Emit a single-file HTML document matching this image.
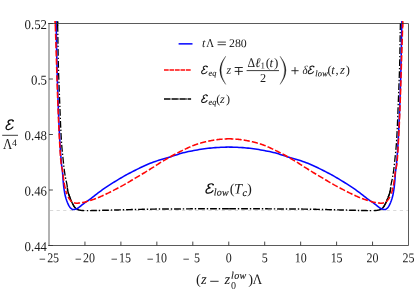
<!DOCTYPE html>
<html><head><meta charset="utf-8"><style>
html,body{margin:0;padding:0;background:#fff;}
svg{display:block;font-family:"Liberation Serif",serif;will-change:transform;}
text{fill:#1a1a1a;}
.tx text{font-size:13.5px;}
.ty text{font-size:13.5px;}
.it{font-style:italic;}
</style></head><body>
<svg width="415" height="291" viewBox="0 0 415 291">
<rect width="415" height="291" fill="#fff"/>
<clipPath id="c"><rect x="46.0" y="20.9" width="365.5" height="224.6"/></clipPath>
<line x1="50.0" y1="210.53" x2="408.5" y2="210.53" stroke="#d9d9d9" stroke-width="1" stroke-dasharray="3.2,3.4"/>
<g clip-path="url(#c)" fill="none" stroke-linejoin="round">
<path d="M57.55,21.30 L57.57,21.87 L57.59,22.44 L57.60,23.02 L57.61,23.59 L57.63,24.16 L57.64,24.73 L57.65,25.31 L57.67,25.88 L57.68,26.45 L57.69,27.03 L57.70,27.60 L57.71,28.17 L57.72,28.74 L57.74,29.32 L57.75,29.89 L57.76,30.46 L57.77,31.03 L57.78,31.61 L57.79,32.18 L57.80,32.75 L57.81,33.32 L57.82,33.90 L57.83,34.47 L57.84,35.04 L57.85,35.61 L57.86,36.19 L57.86,36.76 L57.87,37.33 L57.88,37.90 L57.89,38.48 L57.90,39.05 L57.91,39.62 L57.92,40.20 L57.93,40.77 L57.93,41.34 L57.94,41.91 L57.95,42.49 L57.96,43.06 L57.97,43.63 L57.98,44.20 L57.99,44.78 L57.99,45.35 L58.00,45.92 L58.01,46.49 L58.02,47.07 L58.03,47.64 L58.04,48.21 L58.05,48.79 L58.06,49.36 L58.07,49.93 L58.08,50.50 L58.08,51.08 L58.09,51.65 L58.10,52.22 L58.11,52.79 L58.12,53.37 L58.13,53.94 L58.14,54.51 L58.16,55.08 L58.17,55.66 L58.18,56.23 L58.19,56.80 L58.20,57.37 L58.21,57.95 L58.22,58.52 L58.23,59.09 L58.25,59.66 L58.26,60.24 L58.27,60.81 L58.29,61.38 L58.30,61.95 L58.31,62.53 L58.33,63.10 L58.34,63.67 L58.36,64.24 L58.37,64.82 L58.39,65.39 L58.40,65.96 L58.42,66.53 L58.43,67.11 L58.45,67.68 L58.46,68.25 L58.48,68.82 L58.50,69.40 L58.52,69.97 L58.53,70.54 L58.55,71.11 L58.57,71.69 L58.59,72.26 L58.60,72.83 L58.62,73.40 L58.64,73.98 L58.66,74.55 L58.68,75.12 L58.70,75.69 L58.72,76.26 L58.74,76.84 L58.76,77.41 L58.78,77.98 L58.80,78.55 L58.82,79.13 L58.84,79.70 L58.86,80.27 L58.88,80.84 L58.90,81.42 L58.92,81.99 L58.94,82.56 L58.96,83.13 L58.98,83.71 L59.01,84.28 L59.03,84.85 L59.05,85.42 L59.07,85.99 L59.09,86.57 L59.11,87.14 L59.14,87.71 L59.16,88.28 L59.18,88.86 L59.20,89.43 L59.23,90.00 L59.25,90.57 L59.27,91.15 L59.29,91.72 L59.32,92.29 L59.34,92.86 L59.36,93.43 L59.38,94.01 L59.41,94.58 L59.43,95.15 L59.45,95.72 L59.47,96.30 L59.50,96.87 L59.52,97.44 L59.54,98.01 L59.56,98.58 L59.59,99.16 L59.61,99.73 L59.63,100.30 L59.66,100.87 L59.68,101.45 L59.70,102.02 L59.72,102.59 L59.75,103.16 L59.77,103.73 L59.79,104.31 L59.81,104.88 L59.83,105.45 L59.86,106.02 L59.88,106.60 L59.90,107.17 L59.92,107.74 L59.94,108.31 L59.97,108.89 L59.99,109.46 L60.01,110.03 L60.03,110.60 L60.05,111.18 L60.07,111.75 L60.10,112.32 L60.12,112.89 L60.14,113.47 L60.16,114.04 L60.18,114.61 L60.21,115.18 L60.23,115.76 L60.25,116.33 L60.27,116.90 L60.30,117.47 L60.32,118.05 L60.34,118.62 L60.36,119.19 L60.39,119.76 L60.41,120.34 L60.43,120.91 L60.46,121.48 L60.48,122.05 L60.51,122.62 L60.53,123.20 L60.55,123.77 L60.58,124.34 L60.60,124.91 L60.63,125.49 L60.65,126.06 L60.68,126.63 L60.71,127.20 L60.73,127.78 L60.76,128.35 L60.79,128.92 L60.81,129.49 L60.84,130.06 L60.87,130.64 L60.90,131.21 L60.92,131.78 L60.95,132.35 L60.98,132.92 L61.01,133.49 L61.04,134.07 L61.07,134.64 L61.10,135.21 L61.13,135.78 L61.16,136.35 L61.20,136.92 L61.23,137.50 L61.26,138.07 L61.29,138.64 L61.33,139.21 L61.36,139.78 L61.40,140.35 L61.43,140.92 L61.47,141.49 L61.50,142.07 L61.54,142.64 L61.58,143.21 L61.62,143.78 L61.66,144.35 L61.71,144.92 L61.75,145.49 L61.80,146.06 L61.85,146.63 L61.90,147.20 L61.95,147.77 L62.00,148.34 L62.05,148.91 L62.10,149.48 L62.16,150.05 L62.21,150.62 L62.27,151.19 L62.32,151.76 L62.38,152.33 L62.44,152.90 L62.50,153.47 L62.56,154.04 L62.62,154.61 L62.68,155.18 L62.74,155.75 L62.80,156.32 L62.86,156.89 L62.92,157.46 L62.98,158.03 L63.04,158.60 L63.10,159.17 L63.16,159.74 L63.22,160.31 L63.28,160.88 L63.34,161.45 L63.40,162.02 L63.46,162.59 L63.52,163.16 L63.58,163.73 L63.64,164.30 L63.70,164.87 L63.76,165.44 L63.82,166.01 L63.89,166.58 L63.95,167.15 L64.02,167.71 L64.09,168.28 L64.15,168.85 L64.23,169.42 L64.30,169.99 L64.37,170.55 L64.45,171.12 L64.53,171.69 L64.61,172.26 L64.70,172.82 L64.78,173.39 L64.87,173.96 L64.96,174.52 L65.05,175.09 L65.15,175.65 L65.24,176.22 L65.34,176.78 L65.44,177.35 L65.54,177.91 L65.65,178.47 L65.76,179.03 L65.88,179.59 L66.01,180.15 L66.13,180.71 L66.26,181.27 L66.39,181.83 L66.51,182.39 L66.64,182.95 L66.75,183.51 L66.86,184.07 L66.96,184.63 L67.06,185.20 L67.14,185.76 L67.20,186.33 L67.26,186.91 L67.32,187.48 L67.37,188.05 L67.42,188.62 L67.49,189.19 L67.56,189.75 L67.65,190.31 L67.76,190.87 L67.89,191.42 L68.03,191.98 L68.18,192.53 L68.35,193.08 L68.52,193.63 L68.71,194.17 L68.90,194.72 L69.10,195.26 L69.30,195.80 L69.50,196.34 L69.70,196.88 L69.90,197.42 L70.09,197.96 L70.29,198.49 L70.50,199.03 L70.71,199.57 L70.92,200.10 L71.14,200.63 L71.37,201.16 L71.60,201.69 L71.85,202.21 L72.10,202.72 L72.35,203.22 L72.62,203.73 L72.90,204.24 L73.18,204.76 L73.47,205.29 L73.78,205.81 L74.09,206.32 L74.42,206.80 L74.77,207.26 L75.13,207.68 L75.51,208.06" stroke="#000" stroke-width="1.3" stroke-dasharray="6.8,1.9,1.4,1.9" stroke-dashoffset="8.3"/>
<path d="M400.40,22.90 L400.40,23.02 L400.39,23.59 L400.37,24.16 L400.36,24.73 L400.35,25.31 L400.33,25.88 L400.32,26.45 L400.31,27.03 L400.30,27.60 L400.29,28.17 L400.28,28.74 L400.26,29.32 L400.25,29.89 L400.24,30.46 L400.23,31.03 L400.22,31.61 L400.21,32.18 L400.20,32.75 L400.19,33.32 L400.18,33.90 L400.17,34.47 L400.16,35.04 L400.15,35.61 L400.14,36.19 L400.14,36.76 L400.13,37.33 L400.12,37.90 L400.11,38.48 L400.10,39.05 L400.09,39.62 L400.08,40.20 L400.07,40.77 L400.07,41.34 L400.06,41.91 L400.05,42.49 L400.04,43.06 L400.03,43.63 L400.02,44.20 L400.01,44.78 L400.01,45.35 L400.00,45.92 L399.99,46.49 L399.98,47.07 L399.97,47.64 L399.96,48.21 L399.95,48.79 L399.94,49.36 L399.93,49.93 L399.92,50.50 L399.92,51.08 L399.91,51.65 L399.90,52.22 L399.89,52.79 L399.88,53.37 L399.87,53.94 L399.86,54.51 L399.84,55.08 L399.83,55.66 L399.82,56.23 L399.81,56.80 L399.80,57.37 L399.79,57.95 L399.78,58.52 L399.77,59.09 L399.75,59.66 L399.74,60.24 L399.73,60.81 L399.71,61.38 L399.70,61.95 L399.69,62.53 L399.67,63.10 L399.66,63.67 L399.64,64.24 L399.63,64.82 L399.61,65.39 L399.60,65.96 L399.58,66.53 L399.57,67.11 L399.55,67.68 L399.54,68.25 L399.52,68.82 L399.50,69.40 L399.48,69.97 L399.47,70.54 L399.45,71.11 L399.43,71.69 L399.41,72.26 L399.40,72.83 L399.38,73.40 L399.36,73.98 L399.34,74.55 L399.32,75.12 L399.30,75.69 L399.28,76.26 L399.26,76.84 L399.24,77.41 L399.22,77.98 L399.20,78.55 L399.18,79.13 L399.16,79.70 L399.14,80.27 L399.12,80.84 L399.10,81.42 L399.08,81.99 L399.06,82.56 L399.04,83.13 L399.02,83.71 L398.99,84.28 L398.97,84.85 L398.95,85.42 L398.93,85.99 L398.91,86.57 L398.89,87.14 L398.86,87.71 L398.84,88.28 L398.82,88.86 L398.80,89.43 L398.77,90.00 L398.75,90.57 L398.73,91.15 L398.71,91.72 L398.68,92.29 L398.66,92.86 L398.64,93.43 L398.62,94.01 L398.59,94.58 L398.57,95.15 L398.55,95.72 L398.53,96.30 L398.50,96.87 L398.48,97.44 L398.46,98.01 L398.44,98.58 L398.41,99.16 L398.39,99.73 L398.37,100.30 L398.34,100.87 L398.32,101.45 L398.30,102.02 L398.28,102.59 L398.25,103.16 L398.23,103.73 L398.21,104.31 L398.19,104.88 L398.17,105.45 L398.14,106.02 L398.12,106.60 L398.10,107.17 L398.08,107.74 L398.06,108.31 L398.03,108.89 L398.01,109.46 L397.99,110.03 L397.97,110.60 L397.95,111.18 L397.93,111.75 L397.90,112.32 L397.88,112.89 L397.86,113.47 L397.84,114.04 L397.82,114.61 L397.79,115.18 L397.77,115.76 L397.75,116.33 L397.73,116.90 L397.70,117.47 L397.68,118.05 L397.66,118.62 L397.64,119.19 L397.61,119.76 L397.59,120.34 L397.57,120.91 L397.54,121.48 L397.52,122.05 L397.49,122.62 L397.47,123.20 L397.45,123.77 L397.42,124.34 L397.40,124.91 L397.37,125.49 L397.35,126.06 L397.32,126.63 L397.29,127.20 L397.27,127.78 L397.24,128.35 L397.21,128.92 L397.19,129.49 L397.16,130.06 L397.13,130.64 L397.10,131.21 L397.08,131.78 L397.05,132.35 L397.02,132.92 L396.99,133.49 L396.96,134.07 L396.93,134.64 L396.90,135.21 L396.87,135.78 L396.84,136.35 L396.80,136.92 L396.77,137.50 L396.74,138.07 L396.71,138.64 L396.67,139.21 L396.64,139.78 L396.60,140.35 L396.57,140.92 L396.53,141.49 L396.50,142.07 L396.46,142.64 L396.42,143.21 L396.38,143.78 L396.34,144.35 L396.29,144.92 L396.25,145.49 L396.20,146.06 L396.15,146.63 L396.10,147.20 L396.05,147.77 L396.00,148.34 L395.95,148.91 L395.90,149.48 L395.84,150.05 L395.79,150.62 L395.73,151.19 L395.68,151.76 L395.62,152.33 L395.56,152.90 L395.50,153.47 L395.44,154.04 L395.38,154.61 L395.32,155.18 L395.26,155.75 L395.20,156.32 L395.14,156.89 L395.08,157.46 L395.02,158.03 L394.96,158.60 L394.90,159.17 L394.84,159.74 L394.78,160.31 L394.72,160.88 L394.66,161.45 L394.60,162.02 L394.54,162.59 L394.48,163.16 L394.42,163.73 L394.36,164.30 L394.30,164.87 L394.24,165.44 L394.18,166.01 L394.11,166.58 L394.05,167.15 L393.98,167.71 L393.91,168.28 L393.85,168.85 L393.77,169.42 L393.70,169.99 L393.63,170.55 L393.55,171.12 L393.47,171.69 L393.39,172.26 L393.30,172.82 L393.22,173.39 L393.13,173.96 L393.04,174.52 L392.95,175.09 L392.85,175.65 L392.76,176.22 L392.66,176.78 L392.56,177.35 L392.46,177.91 L392.35,178.47 L392.24,179.03 L392.12,179.59 L391.99,180.15 L391.87,180.71 L391.74,181.27 L391.61,181.83 L391.49,182.39 L391.36,182.95 L391.25,183.51 L391.14,184.07 L391.04,184.63 L390.94,185.20 L390.86,185.76 L390.80,186.33 L390.74,186.91 L390.68,187.48 L390.63,188.05 L390.58,188.62 L390.51,189.19 L390.44,189.75 L390.35,190.31 L390.24,190.87 L390.11,191.42 L389.97,191.98 L389.82,192.53 L389.65,193.08 L389.48,193.63 L389.29,194.17 L389.10,194.72 L388.90,195.26 L388.70,195.80 L388.50,196.34 L388.30,196.88 L388.10,197.42 L387.91,197.96 L387.71,198.49 L387.50,199.03 L387.29,199.57 L387.08,200.10 L386.86,200.63 L386.63,201.16 L386.40,201.69 L386.15,202.21 L385.90,202.72 L385.65,203.22 L385.38,203.73 L385.10,204.24 L384.82,204.76 L384.53,205.29 L384.22,205.81 L383.91,206.32 L383.58,206.80 L383.23,207.26 L382.87,207.68 L382.49,208.06" stroke="#000" stroke-width="1.3" stroke-dasharray="6.8,1.9,1.4,1.9" stroke-dashoffset="-0.3"/>
<path d="M84.70,210.60 L85.27,210.60 L85.84,210.60 L86.42,210.60 L86.99,210.60 L87.56,210.60 L88.14,210.60 L88.71,210.60 L89.28,210.60 L89.85,210.60 L90.43,210.60 L91.00,210.60 L91.57,210.59 L92.15,210.58 L92.72,210.58 L93.29,210.57 L93.86,210.55 L94.44,210.54 L95.01,210.53 L95.58,210.51 L96.15,210.50 L96.73,210.48 L97.30,210.47 L97.87,210.45 L98.44,210.44 L99.02,210.42 L99.59,210.41 L100.16,210.40 L100.73,210.38 L101.31,210.37 L101.88,210.36 L102.45,210.34 L103.02,210.33 L103.60,210.31 L104.17,210.30 L104.74,210.28 L105.31,210.27 L105.89,210.25 L106.46,210.23 L107.03,210.22 L107.60,210.20 L108.18,210.19 L108.75,210.17 L109.32,210.16 L109.89,210.14 L110.47,210.12 L111.04,210.11 L111.61,210.09 L112.18,210.08 L112.76,210.06 L113.33,210.04 L113.90,210.03 L114.47,210.01 L115.05,210.00 L115.62,209.98 L116.19,209.97 L116.76,209.95 L117.34,209.94 L117.91,209.92 L118.48,209.91 L119.05,209.89 L119.63,209.88 L120.20,209.86 L120.77,209.85 L121.34,209.84 L121.92,209.82 L122.49,209.81 L123.06,209.79 L123.63,209.78 L124.21,209.76 L124.78,209.75 L125.35,209.73 L125.92,209.72 L126.50,209.70 L127.07,209.69 L127.64,209.67 L128.21,209.66 L128.79,209.65 L129.36,209.63 L129.93,209.62 L130.50,209.60 L131.08,209.59 L131.65,209.58 L132.22,209.56 L132.79,209.55 L133.37,209.54 L133.94,209.52 L134.51,209.51 L135.08,209.50 L135.66,209.49 L136.23,209.47 L136.80,209.46 L137.37,209.45 L137.95,209.43 L138.52,209.42 L139.09,209.41 L139.66,209.39 L140.24,209.38 L140.81,209.37 L141.38,209.35 L141.95,209.34 L142.53,209.33 L143.10,209.32 L143.67,209.30 L144.24,209.29 L144.82,209.28 L145.39,209.27 L145.96,209.25 L146.53,209.24 L147.11,209.23 L147.68,209.22 L148.25,209.21 L148.83,209.20 L149.40,209.19 L149.97,209.17 L150.54,209.16 L151.12,209.16 L151.69,209.15 L152.26,209.14 L152.83,209.13 L153.41,209.12 L153.98,209.11 L154.55,209.11 L155.12,209.10 L155.70,209.09 L156.27,209.09 L156.84,209.08 L157.41,209.07 L157.99,209.07 L158.56,209.06 L159.13,209.06 L159.70,209.05 L160.28,209.04 L160.85,209.04 L161.42,209.03 L162.00,209.03 L162.57,209.02 L163.14,209.02 L163.71,209.01 L164.29,209.01 L164.86,209.00 L165.43,209.00 L166.00,208.99 L166.58,208.99 L167.15,208.98 L167.72,208.98 L168.29,208.97 L168.87,208.97 L169.44,208.97 L170.01,208.96 L170.59,208.96 L171.16,208.95 L171.73,208.95 L172.30,208.95 L172.88,208.94 L173.45,208.94 L174.02,208.93 L174.59,208.93 L175.17,208.93 L175.74,208.92 L176.31,208.92 L176.89,208.92 L177.46,208.91 L178.03,208.91 L178.60,208.91 L179.18,208.90 L179.75,208.90 L180.32,208.90 L180.89,208.90 L181.47,208.89 L182.04,208.89 L182.61,208.89 L183.18,208.88 L183.76,208.88 L184.33,208.88 L184.90,208.87 L185.48,208.87 L186.05,208.87 L186.62,208.86 L187.19,208.86 L187.77,208.86 L188.34,208.85 L188.91,208.85 L189.48,208.85 L190.06,208.85 L190.63,208.84 L191.20,208.84 L191.78,208.84 L192.35,208.83 L192.92,208.83 L193.49,208.83 L194.07,208.83 L194.64,208.82 L195.21,208.82 L195.78,208.82 L196.36,208.82 L196.93,208.82 L197.50,208.81 L198.07,208.81 L198.65,208.81 L199.22,208.81 L199.79,208.81 L200.37,208.81 L200.94,208.80 L201.51,208.80 L202.08,208.80 L202.66,208.80 L203.23,208.80 L203.80,208.80 L204.37,208.80 L204.95,208.80 L205.52,208.80 L206.09,208.80 L206.67,208.80 L207.24,208.80 L207.81,208.80 L208.38,208.80 L208.96,208.80 L209.53,208.80 L210.10,208.80 L210.67,208.80 L211.25,208.80 L211.82,208.80 L212.39,208.80 L212.96,208.80 L213.54,208.80 L214.11,208.80 L214.68,208.80 L215.26,208.80 L215.83,208.80 L216.40,208.80 L216.97,208.80 L217.55,208.80 L218.12,208.80 L218.69,208.80 L219.26,208.80 L219.84,208.80 L220.41,208.80 L220.98,208.80 L221.55,208.80 L222.13,208.80 L222.70,208.80 L223.27,208.80 L223.85,208.80 L224.42,208.80 L224.99,208.80 L225.56,208.80 L226.14,208.80 L226.71,208.80 L227.28,208.80 L227.85,208.80 L228.43,208.80 L229.00,208.80" stroke="#000" stroke-width="1.45" stroke-dasharray="6.8,1.9,1.4,1.9" stroke-dashoffset="6.6"/>
<path d="M373.30,210.60 L372.73,210.60 L372.16,210.60 L371.58,210.60 L371.01,210.60 L370.44,210.60 L369.86,210.60 L369.29,210.60 L368.72,210.60 L368.15,210.60 L367.57,210.60 L367.00,210.60 L366.43,210.59 L365.85,210.58 L365.28,210.58 L364.71,210.57 L364.14,210.55 L363.56,210.54 L362.99,210.53 L362.42,210.51 L361.85,210.50 L361.27,210.48 L360.70,210.47 L360.13,210.45 L359.56,210.44 L358.98,210.42 L358.41,210.41 L357.84,210.40 L357.27,210.38 L356.69,210.37 L356.12,210.36 L355.55,210.34 L354.98,210.33 L354.40,210.31 L353.83,210.30 L353.26,210.28 L352.69,210.27 L352.11,210.25 L351.54,210.23 L350.97,210.22 L350.40,210.20 L349.82,210.19 L349.25,210.17 L348.68,210.16 L348.11,210.14 L347.53,210.12 L346.96,210.11 L346.39,210.09 L345.82,210.08 L345.24,210.06 L344.67,210.04 L344.10,210.03 L343.53,210.01 L342.95,210.00 L342.38,209.98 L341.81,209.97 L341.24,209.95 L340.66,209.94 L340.09,209.92 L339.52,209.91 L338.95,209.89 L338.37,209.88 L337.80,209.86 L337.23,209.85 L336.66,209.84 L336.08,209.82 L335.51,209.81 L334.94,209.79 L334.37,209.78 L333.79,209.76 L333.22,209.75 L332.65,209.73 L332.08,209.72 L331.50,209.70 L330.93,209.69 L330.36,209.67 L329.79,209.66 L329.21,209.65 L328.64,209.63 L328.07,209.62 L327.50,209.60 L326.92,209.59 L326.35,209.58 L325.78,209.56 L325.21,209.55 L324.63,209.54 L324.06,209.52 L323.49,209.51 L322.92,209.50 L322.34,209.49 L321.77,209.47 L321.20,209.46 L320.63,209.45 L320.05,209.43 L319.48,209.42 L318.91,209.41 L318.34,209.39 L317.76,209.38 L317.19,209.37 L316.62,209.35 L316.05,209.34 L315.47,209.33 L314.90,209.32 L314.33,209.30 L313.76,209.29 L313.18,209.28 L312.61,209.27 L312.04,209.25 L311.47,209.24 L310.89,209.23 L310.32,209.22 L309.75,209.21 L309.17,209.20 L308.60,209.19 L308.03,209.17 L307.46,209.16 L306.88,209.16 L306.31,209.15 L305.74,209.14 L305.17,209.13 L304.59,209.12 L304.02,209.11 L303.45,209.11 L302.88,209.10 L302.30,209.09 L301.73,209.09 L301.16,209.08 L300.59,209.07 L300.01,209.07 L299.44,209.06 L298.87,209.06 L298.30,209.05 L297.72,209.04 L297.15,209.04 L296.58,209.03 L296.00,209.03 L295.43,209.02 L294.86,209.02 L294.29,209.01 L293.71,209.01 L293.14,209.00 L292.57,209.00 L292.00,208.99 L291.42,208.99 L290.85,208.98 L290.28,208.98 L289.71,208.97 L289.13,208.97 L288.56,208.97 L287.99,208.96 L287.41,208.96 L286.84,208.95 L286.27,208.95 L285.70,208.95 L285.12,208.94 L284.55,208.94 L283.98,208.93 L283.41,208.93 L282.83,208.93 L282.26,208.92 L281.69,208.92 L281.11,208.92 L280.54,208.91 L279.97,208.91 L279.40,208.91 L278.82,208.90 L278.25,208.90 L277.68,208.90 L277.11,208.90 L276.53,208.89 L275.96,208.89 L275.39,208.89 L274.82,208.88 L274.24,208.88 L273.67,208.88 L273.10,208.87 L272.52,208.87 L271.95,208.87 L271.38,208.86 L270.81,208.86 L270.23,208.86 L269.66,208.85 L269.09,208.85 L268.52,208.85 L267.94,208.85 L267.37,208.84 L266.80,208.84 L266.22,208.84 L265.65,208.83 L265.08,208.83 L264.51,208.83 L263.93,208.83 L263.36,208.82 L262.79,208.82 L262.22,208.82 L261.64,208.82 L261.07,208.82 L260.50,208.81 L259.93,208.81 L259.35,208.81 L258.78,208.81 L258.21,208.81 L257.63,208.81 L257.06,208.80 L256.49,208.80 L255.92,208.80 L255.34,208.80 L254.77,208.80 L254.20,208.80 L253.63,208.80 L253.05,208.80 L252.48,208.80 L251.91,208.80 L251.33,208.80 L250.76,208.80 L250.19,208.80 L249.62,208.80 L249.04,208.80 L248.47,208.80 L247.90,208.80 L247.33,208.80 L246.75,208.80 L246.18,208.80 L245.61,208.80 L245.04,208.80 L244.46,208.80 L243.89,208.80 L243.32,208.80 L242.74,208.80 L242.17,208.80 L241.60,208.80 L241.03,208.80 L240.45,208.80 L239.88,208.80 L239.31,208.80 L238.74,208.80 L238.16,208.80 L237.59,208.80 L237.02,208.80 L236.45,208.80 L235.87,208.80 L235.30,208.80 L234.73,208.80 L234.15,208.80 L233.58,208.80 L233.01,208.80 L232.44,208.80 L231.86,208.80 L231.29,208.80 L230.72,208.80 L230.15,208.80 L229.57,208.80 L229.00,208.80" stroke="#000" stroke-width="1.45" stroke-dasharray="6.8,1.9,1.4,1.9" stroke-dashoffset="6.6"/>
<path d="M67.32,187.48 L67.37,188.05 L67.42,188.62 L67.49,189.19 L67.56,189.75 L67.65,190.31 L67.76,190.87 L67.89,191.42 L68.03,191.98 L68.18,192.53 L68.35,193.08 L68.52,193.63 L68.71,194.17 L68.90,194.72 L69.10,195.26 L69.30,195.80 L69.50,196.34 L69.70,196.88 L69.90,197.42 L70.09,197.96 L70.29,198.49 L70.50,199.03 L70.71,199.57 L70.92,200.10 L71.14,200.63 L71.37,201.16 L71.60,201.69 L71.85,202.21 L72.10,202.72 L72.35,203.22 L72.62,203.73 L72.90,204.24 L73.18,204.76 L73.47,205.29 L73.78,205.81 L74.09,206.32 L74.42,206.80 L74.77,207.26 L75.13,207.68 L75.51,208.06 L75.91,208.39 L76.36,208.70 L76.85,209.00 L77.37,209.28 L77.91,209.53 L78.47,209.76 L79.03,209.94 L79.58,210.08 L80.13,210.17 L80.68,210.27 L81.25,210.35 L81.82,210.43 L82.40,210.49 L82.97,210.54 L83.55,210.58 L84.13,210.60" stroke="#000" stroke-width="1.45"/>
<path d="M390.68,187.48 L390.63,188.05 L390.58,188.62 L390.51,189.19 L390.44,189.75 L390.35,190.31 L390.24,190.87 L390.11,191.42 L389.97,191.98 L389.82,192.53 L389.65,193.08 L389.48,193.63 L389.29,194.17 L389.10,194.72 L388.90,195.26 L388.70,195.80 L388.50,196.34 L388.30,196.88 L388.10,197.42 L387.91,197.96 L387.71,198.49 L387.50,199.03 L387.29,199.57 L387.08,200.10 L386.86,200.63 L386.63,201.16 L386.40,201.69 L386.15,202.21 L385.90,202.72 L385.65,203.22 L385.38,203.73 L385.10,204.24 L384.82,204.76 L384.53,205.29 L384.22,205.81 L383.91,206.32 L383.58,206.80 L383.23,207.26 L382.87,207.68 L382.49,208.06 L382.09,208.39 L381.64,208.70 L381.15,209.00 L380.63,209.28 L380.09,209.53 L379.53,209.76 L378.97,209.94 L378.42,210.08 L377.87,210.17 L377.32,210.27 L376.75,210.35 L376.18,210.43 L375.60,210.49 L375.03,210.54 L374.45,210.58 L373.87,210.60" stroke="#000" stroke-width="1.45"/>
<path d="M57.55,21.3 L57.62,25.5" stroke="#000" stroke-width="1.5"/>
<path d="M56.10,21.00 L56.15,22.82 L56.19,24.64 L56.23,26.46 L56.26,28.28 L56.30,30.09 L56.33,31.91 L56.37,33.73 L56.40,35.55 L56.43,37.37 L56.46,39.19 L56.50,41.01 L56.53,42.83 L56.56,44.65 L56.59,46.47 L56.62,48.28 L56.66,50.10 L56.69,51.92 L56.72,53.74 L56.76,55.56 L56.80,57.38 L56.84,59.20 L56.88,61.02 L56.92,62.84 L56.96,64.65 L57.01,66.47 L57.05,68.29 L57.10,70.11 L57.15,71.93 L57.20,73.75 L57.25,75.57 L57.30,77.38 L57.35,79.20 L57.41,81.02 L57.46,82.84 L57.52,84.66 L57.58,86.48 L57.63,88.30 L57.69,90.11 L57.75,91.93 L57.81,93.75 L57.87,95.57 L57.94,97.39 L58.00,99.20 L58.06,101.02 L58.13,102.84 L58.20,104.66 L58.26,106.48 L58.33,108.29 L58.40,110.11 L58.47,111.93 L58.55,113.75 L58.62,115.57 L58.70,117.38 L58.77,119.20 L58.85,121.02 L58.93,122.84 L59.01,124.66 L59.10,126.47 L59.18,128.29 L59.27,130.11 L59.36,131.93 L59.45,133.74 L59.55,135.56 L59.64,137.38 L59.74,139.19 L59.84,141.01 L59.95,142.82 L60.05,144.64 L60.16,146.46 L60.28,148.27 L60.40,150.09 L60.52,151.90 L60.65,153.72 L60.79,155.53 L60.93,157.35 L61.08,159.16 L61.23,160.97 L61.39,162.79 L61.56,164.60 L61.76,166.40 L62.00,168.21 L62.25,170.01 L62.48,171.81 L62.65,173.62 L62.77,175.44 L62.88,177.26 L63.01,179.07 L63.15,180.89 L63.31,182.70 L63.49,184.51 L63.69,186.32 L63.92,188.12 L64.17,189.93 L64.45,191.73 L64.77,193.52 L65.13,195.29 L65.56,197.06 L66.08,198.82 L66.66,200.56 L67.30,202.25 L68.01,203.95 L68.83,205.66 L69.80,207.20 L70.99,208.47 L72.59,209.55 L74.32,209.58 L76.10,209.10 L77.71,208.24 L79.21,207.21 L80.61,206.04 L82.00,204.86 L83.46,203.77 L84.95,202.73 L86.46,201.71 L87.97,200.69 L89.45,199.64 L90.90,198.54 L92.34,197.42 L93.76,196.29 L95.19,195.16 L96.63,194.05 L98.08,192.95 L99.54,191.86 L101.00,190.78 L102.47,189.71 L103.96,188.66 L105.46,187.64 L106.98,186.64 L108.51,185.65 L110.04,184.67 L111.58,183.70 L113.12,182.72 L114.66,181.75 L116.20,180.80 L117.76,179.85 L119.31,178.91 L120.88,177.98 L122.45,177.05 L124.02,176.15 L125.61,175.26 L127.21,174.40 L128.82,173.55 L130.43,172.71 L132.05,171.87 L133.67,171.04 L135.29,170.21 L136.91,169.39 L138.54,168.58 L140.17,167.78 L141.81,166.98 L143.45,166.20 L145.11,165.44 L146.77,164.71 L148.45,164.01 L150.14,163.33 L151.84,162.68 L153.54,162.05 L155.26,161.44 L156.98,160.86 L158.71,160.30 L160.45,159.75 L162.19,159.22 L163.94,158.71 L165.69,158.21 L167.43,157.71 L169.18,157.19 L170.92,156.66 L172.65,156.11 L174.38,155.54 L176.11,154.96 L177.84,154.39 L179.57,153.83 L181.31,153.31 L183.07,152.83 L184.83,152.40 L186.60,152.00 L188.38,151.61 L190.16,151.25 L191.95,150.90 L193.74,150.56 L195.53,150.24 L197.32,149.92 L199.12,149.60 L200.91,149.30 L202.71,149.01 L204.51,148.75 L206.31,148.51 L208.12,148.31 L209.93,148.12 L211.74,147.94 L213.55,147.78 L215.37,147.64 L217.18,147.51 L219.00,147.41 L220.82,147.33 L222.63,147.25 L224.45,147.19 L226.27,147.13 L228.09,147.10 L229.91,147.10 L231.73,147.13 L233.55,147.19 L235.37,147.25 L237.18,147.33 L239.00,147.41 L240.82,147.51 L242.63,147.64 L244.45,147.78 L246.26,147.94 L248.07,148.12 L249.88,148.31 L251.69,148.51 L253.49,148.75 L255.29,149.01 L257.09,149.30 L258.88,149.60 L260.68,149.92 L262.47,150.24 L264.26,150.56 L266.05,150.90 L267.84,151.25 L269.62,151.61 L271.40,152.00 L273.17,152.40 L274.93,152.83 L276.69,153.31 L278.43,153.83 L280.16,154.39 L281.89,154.96 L283.62,155.54 L285.35,156.11 L287.08,156.66 L288.82,157.19 L290.57,157.71 L292.31,158.21 L294.06,158.71 L295.81,159.22 L297.55,159.75 L299.29,160.30 L301.02,160.86 L302.74,161.44 L304.46,162.05 L306.16,162.68 L307.86,163.33 L309.55,164.01 L311.23,164.71 L312.89,165.44 L314.55,166.20 L316.19,166.98 L317.83,167.78 L319.46,168.58 L321.09,169.39 L322.71,170.21 L324.33,171.04 L325.95,171.87 L327.57,172.71 L329.18,173.55 L330.79,174.40 L332.39,175.26 L333.98,176.15 L335.55,177.05 L337.12,177.98 L338.69,178.91 L340.24,179.85 L341.80,180.80 L343.34,181.75 L344.88,182.72 L346.42,183.70 L347.96,184.67 L349.49,185.65 L351.02,186.64 L352.54,187.64 L354.04,188.66 L355.53,189.71 L357.00,190.78 L358.46,191.86 L359.92,192.95 L361.37,194.05 L362.81,195.16 L364.24,196.29 L365.66,197.42 L367.10,198.54 L368.55,199.64 L370.03,200.69 L371.54,201.71 L373.05,202.73 L374.54,203.77 L376.00,204.86 L377.39,206.04 L378.79,207.21 L380.29,208.24 L381.90,209.10 L383.68,209.58 L385.41,209.55 L387.01,208.47 L388.20,207.20 L389.17,205.66 L389.99,203.95 L390.70,202.25 L391.34,200.56 L391.92,198.82 L392.44,197.06 L392.87,195.29 L393.23,193.52 L393.55,191.73 L393.83,189.93 L394.08,188.12 L394.31,186.32 L394.51,184.51 L394.69,182.70 L394.85,180.89 L394.99,179.07 L395.12,177.26 L395.23,175.44 L395.35,173.62 L395.52,171.81 L395.75,170.01 L396.00,168.21 L396.24,166.40 L396.44,164.60 L396.61,162.79 L396.77,160.97 L396.92,159.16 L397.07,157.35 L397.21,155.53 L397.35,153.72 L397.48,151.90 L397.60,150.09 L397.72,148.27 L397.84,146.46 L397.95,144.64 L398.05,142.82 L398.16,141.01 L398.26,139.19 L398.36,137.38 L398.45,135.56 L398.55,133.74 L398.64,131.93 L398.73,130.11 L398.82,128.29 L398.90,126.47 L398.99,124.66 L399.07,122.84 L399.15,121.02 L399.23,119.20 L399.30,117.38 L399.38,115.57 L399.45,113.75 L399.53,111.93 L399.60,110.11 L399.67,108.29 L399.74,106.48 L399.80,104.66 L399.87,102.84 L399.94,101.02 L400.00,99.20 L400.06,97.39 L400.13,95.57 L400.19,93.75 L400.25,91.93 L400.31,90.11 L400.37,88.30 L400.42,86.48 L400.48,84.66 L400.54,82.84 L400.59,81.02 L400.65,79.20 L400.70,77.38 L400.75,75.57 L400.80,73.75 L400.85,71.93 L400.90,70.11 L400.95,68.29 L400.99,66.47 L401.04,64.65 L401.08,62.84 L401.12,61.02 L401.16,59.20 L401.20,57.38 L401.24,55.56 L401.28,53.74 L401.31,51.92 L401.34,50.10 L401.38,48.28 L401.41,46.47 L401.44,44.65 L401.47,42.83 L401.50,41.01 L401.54,39.19 L401.57,37.37 L401.60,35.55 L401.63,33.73 L401.67,31.91 L401.70,30.09 L401.74,28.28 L401.77,26.46 L401.81,24.64 L401.85,22.82 L401.90,21.00" stroke="#0505ff" stroke-width="1.55"/>
<path d="M55.25,21.00 L55.26,21.51 L55.27,22.02 L55.29,22.52 L55.30,23.03 L55.31,23.54 L55.33,24.05 L55.34,24.56 L55.36,25.07 L55.37,25.57 L55.38,26.08 L55.40,26.59 L55.41,27.10 L55.43,27.61 L55.44,28.11 L55.46,28.62 L55.47,29.13 L55.49,29.64 L55.50,30.15 L55.51,30.66 L55.53,31.16 L55.54,31.67 L55.56,32.18 L55.57,32.69 L55.59,33.20 L55.60,33.70 L55.62,34.21 L55.64,34.72 L55.65,35.23 L55.67,35.74 L55.68,36.25 L55.70,36.75 L55.71,37.26 L55.73,37.77 L55.74,38.28 L55.76,38.79 L55.78,39.29 L55.79,39.80 L55.81,40.31 L55.82,40.82 L55.84,41.33 L55.86,41.83 L55.87,42.34 L55.89,42.85 L55.90,43.36 L55.92,43.87 L55.94,44.38 L55.95,44.88 L55.97,45.39 L55.98,45.90 L56.00,46.41 L56.02,46.92 L56.03,47.42 L56.05,47.93 L56.07,48.44 L56.08,48.95 L56.10,49.46 L56.11,49.96 L56.13,50.47 L56.15,50.98 L56.16,51.49 L56.18,52.00 L56.20,52.51 L56.21,53.01 L56.23,53.52 L56.25,54.03 L56.26,54.54 L56.28,55.05 L56.29,55.55 L56.31,56.06 L56.33,56.57 L56.34,57.08 L56.36,57.59 L56.38,58.09 L56.39,58.60 L56.41,59.11 L56.42,59.62 L56.44,60.13 L56.46,60.64 L56.47,61.14 L56.49,61.65 L56.51,62.16 L56.52,62.67 L56.54,63.18 L56.55,63.68 L56.57,64.19 L56.58,64.70 L56.60,65.21 L56.62,65.72 L56.63,66.22 L56.65,66.73 L56.66,67.24 L56.68,67.75 L56.70,68.26 L56.71,68.77 L56.73,69.27 L56.74,69.78 L56.76,70.29 L56.77,70.80 L56.79,71.31 L56.80,71.81 L56.82,72.32 L56.84,72.83 L56.85,73.34 L56.87,73.85 L56.88,74.36 L56.90,74.86 L56.91,75.37 L56.93,75.88 L56.94,76.39 L56.96,76.90 L56.98,77.40 L56.99,77.91 L57.01,78.42 L57.02,78.93 L57.04,79.44 L57.06,79.95 L57.07,80.45 L57.09,80.96 L57.10,81.47 L57.12,81.98 L57.13,82.49 L57.15,82.99 L57.17,83.50 L57.18,84.01 L57.20,84.52 L57.22,85.03 L57.23,85.53 L57.25,86.04 L57.26,86.55 L57.28,87.06 L57.30,87.57 L57.31,88.08 L57.33,88.58 L57.35,89.09 L57.36,89.60 L57.38,90.11 L57.40,90.62 L57.41,91.12 L57.43,91.63 L57.45,92.14 L57.47,92.65 L57.48,93.16 L57.50,93.66 L57.52,94.17 L57.54,94.68 L57.55,95.19 L57.57,95.70 L57.59,96.20 L57.61,96.71 L57.62,97.22 L57.64,97.73 L57.66,98.24 L57.68,98.74 L57.70,99.25 L57.72,99.76 L57.74,100.27 L57.75,100.78 L57.77,101.28 L57.79,101.79 L57.81,102.30 L57.83,102.81 L57.85,103.32 L57.87,103.82 L57.89,104.33 L57.91,104.84 L57.93,105.35 L57.95,105.86 L57.97,106.37 L57.99,106.87 L58.01,107.38 L58.02,107.89 L58.04,108.40 L58.06,108.91 L58.08,109.41 L58.10,109.92 L58.12,110.43 L58.14,110.94 L58.16,111.45 L58.18,111.95 L58.20,112.46 L58.23,112.97 L58.25,113.48 L58.27,113.99 L58.29,114.49 L58.31,115.00 L58.33,115.51 L58.35,116.02 L58.37,116.53 L58.39,117.03 L58.41,117.54 L58.43,118.05 L58.45,118.56 L58.48,119.07 L58.50,119.57 L58.52,120.08 L58.54,120.59 L58.56,121.10 L58.59,121.61 L58.61,122.11 L58.63,122.62 L58.65,123.13 L58.68,123.64 L58.70,124.15 L58.72,124.65 L58.74,125.16 L58.77,125.67 L58.79,126.18 L58.81,126.68 L58.84,127.19 L58.86,127.70 L58.88,128.21 L58.91,128.72 L58.93,129.22 L58.96,129.73 L58.98,130.24 L59.01,130.75 L59.03,131.26 L59.06,131.76 L59.08,132.27 L59.11,132.78 L59.13,133.29 L59.16,133.79 L59.18,134.30 L59.21,134.81 L59.24,135.32 L59.26,135.82 L59.29,136.33 L59.32,136.84 L59.34,137.35 L59.37,137.85 L59.40,138.36 L59.43,138.87 L59.45,139.38 L59.48,139.88 L59.51,140.39 L59.54,140.90 L59.57,141.41 L59.60,141.91 L59.62,142.42 L59.65,142.93 L59.68,143.44 L59.71,143.95 L59.74,144.45 L59.76,144.96 L59.79,145.47 L59.82,145.98 L59.85,146.49 L59.88,147.00 L59.90,147.51 L59.93,148.02 L59.96,148.53 L59.99,149.03 L60.02,149.54 L60.05,150.05 L60.08,150.56 L60.11,151.07 L60.14,151.58 L60.17,152.09 L60.20,152.60 L60.23,153.11 L60.27,153.61 L60.30,154.12 L60.34,154.63 L60.37,155.14 L60.41,155.65 L60.44,156.15 L60.48,156.66 L60.52,157.17 L60.56,157.68 L60.60,158.18 L60.65,158.69 L60.69,159.19 L60.74,159.70 L60.78,160.21 L60.83,160.71 L60.88,161.21 L60.93,161.72 L60.98,162.22 L61.04,162.73 L61.09,163.23 L61.15,163.73 L61.21,164.23 L61.27,164.73 L61.33,165.23 L61.41,165.73 L61.51,166.23 L61.63,166.72 L61.75,167.22 L61.88,167.71 L62.00,168.21 L62.13,168.70 L62.24,169.20 L62.35,169.70 L62.43,170.20 L62.51,170.70 L62.59,171.20 L62.66,171.71 L62.73,172.21 L62.80,172.71 L62.86,173.22 L62.93,173.72 L62.99,174.23 L63.06,174.73 L63.13,175.23 L63.20,175.74 L63.27,176.24 L63.34,176.75 L63.40,177.25 L63.47,177.76 L63.53,178.26 L63.60,178.77 L63.66,179.27 L63.73,179.78 L63.79,180.28 L63.86,180.79 L63.93,181.29 L64.00,181.80 L64.07,182.30 L64.15,182.80 L64.22,183.30 L64.30,183.80 L64.39,184.30 L64.47,184.80 L64.56,185.30 L64.66,185.80 L64.75,186.30 L64.86,186.80 L64.96,187.30 L65.07,187.80 L65.19,188.29 L65.31,188.79 L65.43,189.29 L65.56,189.78 L65.69,190.28 L65.83,190.77 L65.97,191.26 L66.12,191.74 L66.27,192.23 L66.43,192.70 L66.59,193.18 L66.76,193.65 L66.94,194.13" stroke="#ff0505" stroke-width="1.55" stroke-dasharray="6.2,2.1" stroke-dashoffset="3.9"/>
<path d="M402.75,21.00 L402.74,21.51 L402.73,22.02 L402.71,22.52 L402.70,23.03 L402.69,23.54 L402.67,24.05 L402.66,24.56 L402.64,25.07 L402.63,25.57 L402.62,26.08 L402.60,26.59 L402.59,27.10 L402.57,27.61 L402.56,28.11 L402.54,28.62 L402.53,29.13 L402.51,29.64 L402.50,30.15 L402.49,30.66 L402.47,31.16 L402.46,31.67 L402.44,32.18 L402.43,32.69 L402.41,33.20 L402.40,33.70 L402.38,34.21 L402.36,34.72 L402.35,35.23 L402.33,35.74 L402.32,36.25 L402.30,36.75 L402.29,37.26 L402.27,37.77 L402.26,38.28 L402.24,38.79 L402.22,39.29 L402.21,39.80 L402.19,40.31 L402.18,40.82 L402.16,41.33 L402.14,41.83 L402.13,42.34 L402.11,42.85 L402.10,43.36 L402.08,43.87 L402.06,44.38 L402.05,44.88 L402.03,45.39 L402.02,45.90 L402.00,46.41 L401.98,46.92 L401.97,47.42 L401.95,47.93 L401.93,48.44 L401.92,48.95 L401.90,49.46 L401.89,49.96 L401.87,50.47 L401.85,50.98 L401.84,51.49 L401.82,52.00 L401.80,52.51 L401.79,53.01 L401.77,53.52 L401.75,54.03 L401.74,54.54 L401.72,55.05 L401.71,55.55 L401.69,56.06 L401.67,56.57 L401.66,57.08 L401.64,57.59 L401.62,58.09 L401.61,58.60 L401.59,59.11 L401.58,59.62 L401.56,60.13 L401.54,60.64 L401.53,61.14 L401.51,61.65 L401.49,62.16 L401.48,62.67 L401.46,63.18 L401.45,63.68 L401.43,64.19 L401.42,64.70 L401.40,65.21 L401.38,65.72 L401.37,66.22 L401.35,66.73 L401.34,67.24 L401.32,67.75 L401.30,68.26 L401.29,68.77 L401.27,69.27 L401.26,69.78 L401.24,70.29 L401.23,70.80 L401.21,71.31 L401.20,71.81 L401.18,72.32 L401.16,72.83 L401.15,73.34 L401.13,73.85 L401.12,74.36 L401.10,74.86 L401.09,75.37 L401.07,75.88 L401.06,76.39 L401.04,76.90 L401.02,77.40 L401.01,77.91 L400.99,78.42 L400.98,78.93 L400.96,79.44 L400.94,79.95 L400.93,80.45 L400.91,80.96 L400.90,81.47 L400.88,81.98 L400.87,82.49 L400.85,82.99 L400.83,83.50 L400.82,84.01 L400.80,84.52 L400.78,85.03 L400.77,85.53 L400.75,86.04 L400.74,86.55 L400.72,87.06 L400.70,87.57 L400.69,88.08 L400.67,88.58 L400.65,89.09 L400.64,89.60 L400.62,90.11 L400.60,90.62 L400.59,91.12 L400.57,91.63 L400.55,92.14 L400.53,92.65 L400.52,93.16 L400.50,93.66 L400.48,94.17 L400.46,94.68 L400.45,95.19 L400.43,95.70 L400.41,96.20 L400.39,96.71 L400.38,97.22 L400.36,97.73 L400.34,98.24 L400.32,98.74 L400.30,99.25 L400.28,99.76 L400.26,100.27 L400.25,100.78 L400.23,101.28 L400.21,101.79 L400.19,102.30 L400.17,102.81 L400.15,103.32 L400.13,103.82 L400.11,104.33 L400.09,104.84 L400.07,105.35 L400.05,105.86 L400.03,106.37 L400.01,106.87 L399.99,107.38 L399.98,107.89 L399.96,108.40 L399.94,108.91 L399.92,109.41 L399.90,109.92 L399.88,110.43 L399.86,110.94 L399.84,111.45 L399.82,111.95 L399.80,112.46 L399.77,112.97 L399.75,113.48 L399.73,113.99 L399.71,114.49 L399.69,115.00 L399.67,115.51 L399.65,116.02 L399.63,116.53 L399.61,117.03 L399.59,117.54 L399.57,118.05 L399.55,118.56 L399.52,119.07 L399.50,119.57 L399.48,120.08 L399.46,120.59 L399.44,121.10 L399.41,121.61 L399.39,122.11 L399.37,122.62 L399.35,123.13 L399.32,123.64 L399.30,124.15 L399.28,124.65 L399.26,125.16 L399.23,125.67 L399.21,126.18 L399.19,126.68 L399.16,127.19 L399.14,127.70 L399.12,128.21 L399.09,128.72 L399.07,129.22 L399.04,129.73 L399.02,130.24 L398.99,130.75 L398.97,131.26 L398.94,131.76 L398.92,132.27 L398.89,132.78 L398.87,133.29 L398.84,133.79 L398.82,134.30 L398.79,134.81 L398.76,135.32 L398.74,135.82 L398.71,136.33 L398.68,136.84 L398.66,137.35 L398.63,137.85 L398.60,138.36 L398.57,138.87 L398.55,139.38 L398.52,139.88 L398.49,140.39 L398.46,140.90 L398.43,141.41 L398.40,141.91 L398.38,142.42 L398.35,142.93 L398.32,143.44 L398.29,143.95 L398.26,144.45 L398.24,144.96 L398.21,145.47 L398.18,145.98 L398.15,146.49 L398.12,147.00 L398.10,147.51 L398.07,148.02 L398.04,148.53 L398.01,149.03 L397.98,149.54 L397.95,150.05 L397.92,150.56 L397.89,151.07 L397.86,151.58 L397.83,152.09 L397.80,152.60 L397.77,153.11 L397.73,153.61 L397.70,154.12 L397.66,154.63 L397.63,155.14 L397.59,155.65 L397.56,156.15 L397.52,156.66 L397.48,157.17 L397.44,157.68 L397.40,158.18 L397.35,158.69 L397.31,159.19 L397.26,159.70 L397.22,160.21 L397.17,160.71 L397.12,161.21 L397.07,161.72 L397.02,162.22 L396.96,162.73 L396.91,163.23 L396.85,163.73 L396.79,164.23 L396.73,164.73 L396.67,165.23 L396.59,165.73 L396.49,166.23 L396.37,166.72 L396.25,167.22 L396.12,167.71 L396.00,168.21 L395.87,168.70 L395.76,169.20 L395.65,169.70 L395.57,170.20 L395.49,170.70 L395.41,171.20 L395.34,171.71 L395.27,172.21 L395.20,172.71 L395.14,173.22 L395.07,173.72 L395.01,174.23 L394.94,174.73 L394.87,175.23 L394.80,175.74 L394.73,176.24 L394.66,176.75 L394.60,177.25 L394.53,177.76 L394.47,178.26 L394.40,178.77 L394.34,179.27 L394.27,179.78 L394.21,180.28 L394.14,180.79 L394.07,181.29 L394.00,181.80 L393.93,182.30 L393.85,182.80 L393.78,183.30 L393.70,183.80 L393.61,184.30 L393.53,184.80 L393.44,185.30 L393.34,185.80 L393.25,186.30 L393.14,186.80 L393.04,187.30 L392.93,187.80 L392.81,188.29 L392.69,188.79 L392.57,189.29 L392.44,189.78 L392.31,190.28 L392.17,190.77 L392.03,191.26 L391.88,191.74 L391.73,192.23 L391.57,192.70 L391.41,193.18 L391.24,193.65 L391.06,194.13" stroke="#ff0505" stroke-width="1.55" stroke-dasharray="6.2,2.1" stroke-dashoffset="7.15"/>
<path d="M68.20,196.98 L68.44,197.43 L68.70,197.88 L68.96,198.31 L69.23,198.73 L69.50,199.13 L69.79,199.52 L70.11,199.92 L70.45,200.32 L70.81,200.71 L71.19,201.08 L71.59,201.43 L72.00,201.74 L72.42,202.01 L72.84,202.22 L73.29,202.41 L73.76,202.59 L74.25,202.76 L74.75,202.91 L75.26,203.04 L75.78,203.14 L76.29,203.19 L76.79,203.20 L77.29,203.19 L77.79,203.16 L78.30,203.12 L78.81,203.07 L79.31,203.01 L79.82,202.95 L80.33,202.88 L80.84,202.81 L81.34,202.73 L81.85,202.65 L82.35,202.58 L82.84,202.49 L83.34,202.40 L83.84,202.29 L84.33,202.18 L84.83,202.06 L85.32,201.93 L85.81,201.80 L86.30,201.66 L86.79,201.52 L87.28,201.37 L87.77,201.22 L88.26,201.07 L88.75,200.93 L89.24,200.78 L89.72,200.63 L90.21,200.49 L90.69,200.33 L91.18,200.18 L91.66,200.02 L92.14,199.86 L92.62,199.69 L93.10,199.53 L93.58,199.36 L94.06,199.19 L94.54,199.01 L95.02,198.84 L95.50,198.66 L95.97,198.48 L96.45,198.30 L96.92,198.11 L97.39,197.93 L97.86,197.74 L98.33,197.55 L98.80,197.35 L99.27,197.16 L99.74,196.96 L100.21,196.76 L100.67,196.55 L101.14,196.35 L101.60,196.14 L102.07,195.93 L102.53,195.72 L103.00,195.51 L103.46,195.30 L103.92,195.09 L104.38,194.88 L104.84,194.66 L105.30,194.45 L105.76,194.23 L106.22,194.01 L106.68,193.79 L107.14,193.57 L107.59,193.35 L108.05,193.12 L108.51,192.90 L108.96,192.67 L109.42,192.44 L109.87,192.22 L110.33,191.99 L110.78,191.76 L111.24,191.53 L111.69,191.30 L112.14,191.07 L112.59,190.84 L113.05,190.61 L113.50,190.37 L113.95,190.14 L114.40,189.90 L114.85,189.67 L115.30,189.43 L115.75,189.19 L116.20,188.96 L116.65,188.72 L117.10,188.48 L117.55,188.24 L118.00,188.00 L118.44,187.76 L118.89,187.52 L119.34,187.29 L119.79,187.05 L120.24,186.81 L120.69,186.57 L121.13,186.32 L121.58,186.08 L122.03,185.84 L122.48,185.60 L122.92,185.35 L123.37,185.11 L123.81,184.86 L124.26,184.62 L124.70,184.37 L125.14,184.12 L125.58,183.87 L126.03,183.62 L126.47,183.36 L126.91,183.11 L127.35,182.85 L127.78,182.59 L128.22,182.34 L128.66,182.08 L129.10,181.82 L129.54,181.56 L129.97,181.30 L130.41,181.04 L130.85,180.78 L131.28,180.52 L131.72,180.26 L132.16,180.01 L132.60,179.75 L133.04,179.49 L133.47,179.23 L133.91,178.97 L134.35,178.71 L134.78,178.45 L135.22,178.19 L135.66,177.93 L136.09,177.67 L136.53,177.41 L136.97,177.15 L137.41,176.89 L137.84,176.63 L138.28,176.37 L138.72,176.11 L139.15,175.85 L139.59,175.59 L140.03,175.33 L140.46,175.07 L140.90,174.81 L141.34,174.55 L141.78,174.29 L142.21,174.04 L142.65,173.78 L143.09,173.52 L143.52,173.26 L143.96,172.99 L144.40,172.73 L144.83,172.47 L145.27,172.21 L145.70,171.94 L146.14,171.68 L146.57,171.41 L147.00,171.14 L147.43,170.88 L147.86,170.61 L148.29,170.34 L148.72,170.07 L149.15,169.80 L149.58,169.52 L150.01,169.25 L150.44,168.98 L150.87,168.71 L151.30,168.43 L151.73,168.16 L152.16,167.89 L152.59,167.62 L153.02,167.34 L153.45,167.07 L153.88,166.80 L154.30,166.52 L154.73,166.25 L155.16,165.97 L155.59,165.70 L156.01,165.42 L156.44,165.15 L156.87,164.87 L157.29,164.59 L157.72,164.32 L158.15,164.04 L158.58,163.77 L159.01,163.50 L159.44,163.23 L159.87,162.96 L160.30,162.69 L160.73,162.42 L161.16,162.15 L161.60,161.89 L162.03,161.62 L162.47,161.36 L162.90,161.10 L163.34,160.84 L163.77,160.57 L164.21,160.31 L164.65,160.05 L165.09,159.80 L165.52,159.54 L165.96,159.28 L166.40,159.02 L166.84,158.76 L167.28,158.51 L167.72,158.25 L168.15,157.99 L168.59,157.74 L169.03,157.48 L169.47,157.22 L169.91,156.97 L170.35,156.72 L170.80,156.47 L171.24,156.22 L171.69,155.98 L172.13,155.74 L172.58,155.49 L173.03,155.25 L173.48,155.01 L173.92,154.77 L174.37,154.54 L174.82,154.30 L175.27,154.06 L175.72,153.83 L176.18,153.59 L176.63,153.36 L177.08,153.12 L177.53,152.89 L177.99,152.66 L178.44,152.43 L178.89,152.20 L179.35,151.98 L179.80,151.75 L180.26,151.52 L180.72,151.30 L181.17,151.08 L181.63,150.85 L182.09,150.63 L182.55,150.41 L183.00,150.19 L183.46,149.98 L183.92,149.76 L184.38,149.54 L184.84,149.32 L185.30,149.10 L185.76,148.87 L186.22,148.65 L186.68,148.43 L187.14,148.21 L187.60,148.00 L188.06,147.78 L188.53,147.56 L188.99,147.35 L189.45,147.14 L189.92,146.93 L190.38,146.72 L190.85,146.51 L191.32,146.31 L191.78,146.11 L192.25,145.92 L192.72,145.73 L193.19,145.54 L193.67,145.36 L194.14,145.18 L194.61,145.01 L195.09,144.84 L195.57,144.67 L196.05,144.51 L196.53,144.35 L197.01,144.19 L197.49,144.04 L197.98,143.88 L198.46,143.73 L198.95,143.58 L199.43,143.43 L199.92,143.28 L200.41,143.14 L200.90,143.00 L201.39,142.86 L201.89,142.72 L202.38,142.58 L202.87,142.45 L203.36,142.32 L203.86,142.20 L204.35,142.07 L204.85,141.95 L205.34,141.84 L205.84,141.72 L206.33,141.61 L206.83,141.50 L207.32,141.40 L207.82,141.29 L208.32,141.19 L208.81,141.09 L209.31,140.98 L209.81,140.88 L210.31,140.78 L210.81,140.68 L211.31,140.59 L211.81,140.49 L212.31,140.40 L212.81,140.31 L213.31,140.22 L213.82,140.13 L214.32,140.05 L214.82,139.96 L215.33,139.89 L215.83,139.81 L216.33,139.74 L216.84,139.67 L217.34,139.61 L217.85,139.55 L218.35,139.49 L218.85,139.44 L219.36,139.39 L219.86,139.35 L220.37,139.31 L220.87,139.26 L221.38,139.22 L221.89,139.18 L222.39,139.14 L222.90,139.10 L223.41,139.06 L223.91,139.03 L224.42,138.99 L224.93,138.96 L225.44,138.93 L225.94,138.91 L226.45,138.88 L226.96,138.86 L227.47,138.84 L227.98,138.82 L228.49,138.81 L229.00,138.80" stroke="#ff0505" stroke-width="1.55" stroke-dasharray="6.195,2.098"/>
<path d="M389.80,196.98 L389.56,197.43 L389.30,197.88 L389.04,198.31 L388.77,198.73 L388.50,199.13 L388.21,199.52 L387.89,199.92 L387.55,200.32 L387.19,200.71 L386.81,201.08 L386.41,201.43 L386.00,201.74 L385.58,202.01 L385.16,202.22 L384.71,202.41 L384.24,202.59 L383.75,202.76 L383.25,202.91 L382.74,203.04 L382.22,203.14 L381.71,203.19 L381.21,203.20 L380.71,203.19 L380.21,203.16 L379.70,203.12 L379.19,203.07 L378.69,203.01 L378.18,202.95 L377.67,202.88 L377.16,202.81 L376.66,202.73 L376.15,202.65 L375.65,202.58 L375.16,202.49 L374.66,202.40 L374.16,202.29 L373.67,202.18 L373.17,202.06 L372.68,201.93 L372.19,201.80 L371.70,201.66 L371.21,201.52 L370.72,201.37 L370.23,201.22 L369.74,201.07 L369.25,200.93 L368.76,200.78 L368.28,200.63 L367.79,200.49 L367.31,200.33 L366.82,200.18 L366.34,200.02 L365.86,199.86 L365.38,199.69 L364.90,199.53 L364.42,199.36 L363.94,199.19 L363.46,199.01 L362.98,198.84 L362.50,198.66 L362.03,198.48 L361.55,198.30 L361.08,198.11 L360.61,197.93 L360.14,197.74 L359.67,197.55 L359.20,197.35 L358.73,197.16 L358.26,196.96 L357.79,196.76 L357.33,196.55 L356.86,196.35 L356.40,196.14 L355.93,195.93 L355.47,195.72 L355.00,195.51 L354.54,195.30 L354.08,195.09 L353.62,194.88 L353.16,194.66 L352.70,194.45 L352.24,194.23 L351.78,194.01 L351.32,193.79 L350.86,193.57 L350.41,193.35 L349.95,193.12 L349.49,192.90 L349.04,192.67 L348.58,192.44 L348.13,192.22 L347.67,191.99 L347.22,191.76 L346.76,191.53 L346.31,191.30 L345.86,191.07 L345.41,190.84 L344.95,190.61 L344.50,190.37 L344.05,190.14 L343.60,189.90 L343.15,189.67 L342.70,189.43 L342.25,189.19 L341.80,188.96 L341.35,188.72 L340.90,188.48 L340.45,188.24 L340.00,188.00 L339.56,187.76 L339.11,187.52 L338.66,187.29 L338.21,187.05 L337.76,186.81 L337.31,186.57 L336.87,186.32 L336.42,186.08 L335.97,185.84 L335.52,185.60 L335.08,185.35 L334.63,185.11 L334.19,184.86 L333.74,184.62 L333.30,184.37 L332.86,184.12 L332.42,183.87 L331.97,183.62 L331.53,183.36 L331.09,183.11 L330.65,182.85 L330.22,182.59 L329.78,182.34 L329.34,182.08 L328.90,181.82 L328.46,181.56 L328.03,181.30 L327.59,181.04 L327.15,180.78 L326.72,180.52 L326.28,180.26 L325.84,180.01 L325.40,179.75 L324.96,179.49 L324.53,179.23 L324.09,178.97 L323.65,178.71 L323.22,178.45 L322.78,178.19 L322.34,177.93 L321.91,177.67 L321.47,177.41 L321.03,177.15 L320.59,176.89 L320.16,176.63 L319.72,176.37 L319.28,176.11 L318.85,175.85 L318.41,175.59 L317.97,175.33 L317.54,175.07 L317.10,174.81 L316.66,174.55 L316.22,174.29 L315.79,174.04 L315.35,173.78 L314.91,173.52 L314.48,173.26 L314.04,172.99 L313.60,172.73 L313.17,172.47 L312.73,172.21 L312.30,171.94 L311.86,171.68 L311.43,171.41 L311.00,171.14 L310.57,170.88 L310.14,170.61 L309.71,170.34 L309.28,170.07 L308.85,169.80 L308.42,169.52 L307.99,169.25 L307.56,168.98 L307.13,168.71 L306.70,168.43 L306.27,168.16 L305.84,167.89 L305.41,167.62 L304.98,167.34 L304.55,167.07 L304.12,166.80 L303.70,166.52 L303.27,166.25 L302.84,165.97 L302.41,165.70 L301.99,165.42 L301.56,165.15 L301.13,164.87 L300.71,164.59 L300.28,164.32 L299.85,164.04 L299.42,163.77 L298.99,163.50 L298.56,163.23 L298.13,162.96 L297.70,162.69 L297.27,162.42 L296.84,162.15 L296.40,161.89 L295.97,161.62 L295.53,161.36 L295.10,161.10 L294.66,160.84 L294.23,160.57 L293.79,160.31 L293.35,160.05 L292.91,159.80 L292.48,159.54 L292.04,159.28 L291.60,159.02 L291.16,158.76 L290.72,158.51 L290.28,158.25 L289.85,157.99 L289.41,157.74 L288.97,157.48 L288.53,157.22 L288.09,156.97 L287.65,156.72 L287.20,156.47 L286.76,156.22 L286.31,155.98 L285.87,155.74 L285.42,155.49 L284.97,155.25 L284.52,155.01 L284.08,154.77 L283.63,154.54 L283.18,154.30 L282.73,154.06 L282.28,153.83 L281.82,153.59 L281.37,153.36 L280.92,153.12 L280.47,152.89 L280.01,152.66 L279.56,152.43 L279.11,152.20 L278.65,151.98 L278.20,151.75 L277.74,151.52 L277.28,151.30 L276.83,151.08 L276.37,150.85 L275.91,150.63 L275.45,150.41 L275.00,150.19 L274.54,149.98 L274.08,149.76 L273.62,149.54 L273.16,149.32 L272.70,149.10 L272.24,148.87 L271.78,148.65 L271.32,148.43 L270.86,148.21 L270.40,148.00 L269.94,147.78 L269.47,147.56 L269.01,147.35 L268.55,147.14 L268.08,146.93 L267.62,146.72 L267.15,146.51 L266.68,146.31 L266.22,146.11 L265.75,145.92 L265.28,145.73 L264.81,145.54 L264.33,145.36 L263.86,145.18 L263.39,145.01 L262.91,144.84 L262.43,144.67 L261.95,144.51 L261.47,144.35 L260.99,144.19 L260.51,144.04 L260.02,143.88 L259.54,143.73 L259.05,143.58 L258.57,143.43 L258.08,143.28 L257.59,143.14 L257.10,143.00 L256.61,142.86 L256.11,142.72 L255.62,142.58 L255.13,142.45 L254.64,142.32 L254.14,142.20 L253.65,142.07 L253.15,141.95 L252.66,141.84 L252.16,141.72 L251.67,141.61 L251.17,141.50 L250.68,141.40 L250.18,141.29 L249.68,141.19 L249.19,141.09 L248.69,140.98 L248.19,140.88 L247.69,140.78 L247.19,140.68 L246.69,140.59 L246.19,140.49 L245.69,140.40 L245.19,140.31 L244.69,140.22 L244.18,140.13 L243.68,140.05 L243.18,139.96 L242.67,139.89 L242.17,139.81 L241.67,139.74 L241.16,139.67 L240.66,139.61 L240.15,139.55 L239.65,139.49 L239.15,139.44 L238.64,139.39 L238.14,139.35 L237.63,139.31 L237.13,139.26 L236.62,139.22 L236.11,139.18 L235.61,139.14 L235.10,139.10 L234.59,139.06 L234.09,139.03 L233.58,138.99 L233.07,138.96 L232.56,138.93 L232.06,138.91 L231.55,138.88 L231.04,138.86 L230.53,138.84 L230.02,138.82 L229.51,138.81 L229.00,138.80" stroke="#ff0505" stroke-width="1.55" stroke-dasharray="6.195,2.098"/>
<path d="M55.25,21 L55.4,26 M402.75,21 L402.6,27" stroke="#ff0a0a" stroke-width="1.5"/>
</g>
<line x1="49.0" y1="23.0" x2="49.0" y2="246.0" stroke="#aaaaaa" stroke-width="1.8"/>
<g stroke="#303030" stroke-width="0.8" fill="none">
<path d="M48.1,23.5 H408.5 V245.5 H48.1"/>
</g>
<g stroke="#333" stroke-width="0.9" fill="none">
<line x1="84.95" y1="245.5" x2="84.95" y2="241.6"/><line x1="120.90" y1="245.5" x2="120.90" y2="241.6"/><line x1="156.85" y1="245.5" x2="156.85" y2="241.6"/><line x1="192.80" y1="245.5" x2="192.80" y2="241.6"/><line x1="228.75" y1="245.5" x2="228.75" y2="241.6"/><line x1="264.70" y1="245.5" x2="264.70" y2="241.6"/><line x1="300.65" y1="245.5" x2="300.65" y2="241.6"/><line x1="336.60" y1="245.5" x2="336.60" y2="241.6"/><line x1="372.55" y1="245.5" x2="372.55" y2="241.6"/><line x1="49.0" y1="245.50" x2="52.9" y2="245.50"/><line x1="49.0" y1="190.00" x2="52.9" y2="190.00"/><line x1="49.0" y1="134.50" x2="52.9" y2="134.50"/><line x1="49.0" y1="79.00" x2="52.9" y2="79.00"/><line x1="49.0" y1="23.50" x2="52.9" y2="23.50"/>
</g>
<g class="tx"><text transform="translate(53.10,262.3) rotate(0.2) scale(0.885,1)" text-anchor="middle">25</text><line x1="39.60" y1="259.2" x2="45.10" y2="259.2" stroke="#222" stroke-width="0.8"/><text transform="translate(89.05,262.3) rotate(0.2) scale(0.885,1)" text-anchor="middle">20</text><line x1="75.55" y1="259.2" x2="81.05" y2="259.2" stroke="#222" stroke-width="0.8"/><text transform="translate(125.00,262.3) rotate(0.2) scale(0.885,1)" text-anchor="middle">15</text><line x1="111.50" y1="259.2" x2="117.00" y2="259.2" stroke="#222" stroke-width="0.8"/><text transform="translate(160.95,262.3) rotate(0.2) scale(0.885,1)" text-anchor="middle">10</text><line x1="147.45" y1="259.2" x2="152.95" y2="259.2" stroke="#222" stroke-width="0.8"/><text transform="translate(196.90,262.3) rotate(0.2) scale(0.885,1)" text-anchor="middle">5</text><line x1="183.40" y1="259.2" x2="188.90" y2="259.2" stroke="#222" stroke-width="0.8"/><text transform="translate(228.75,262.3) rotate(0.2) scale(0.885,1)" text-anchor="middle">0</text><text transform="translate(264.70,262.3) rotate(0.2) scale(0.885,1)" text-anchor="middle">5</text><text transform="translate(300.65,262.3) rotate(0.2) scale(0.885,1)" text-anchor="middle">10</text><text transform="translate(336.60,262.3) rotate(0.2) scale(0.885,1)" text-anchor="middle">15</text><text transform="translate(372.55,262.3) rotate(0.2) scale(0.885,1)" text-anchor="middle">20</text><text transform="translate(408.50,262.3) rotate(0.2) scale(0.885,1)" text-anchor="middle">25</text></g>
<g class="ty"><text transform="translate(47.0,251.05) rotate(0.2) scale(0.95,1)" text-anchor="end">0.44</text><text transform="translate(47.0,195.55) rotate(0.2) scale(0.95,1)" text-anchor="end">0.46</text><text transform="translate(47.0,140.05) rotate(0.2) scale(0.95,1)" text-anchor="end">0.48</text><text transform="translate(47.0,84.55) rotate(0.2) scale(0.95,1)" text-anchor="end">0.5</text><text transform="translate(47.0,29.05) rotate(0.2) scale(0.95,1)" text-anchor="end">0.52</text></g>
<g transform="translate(5.3,130.0) scale(11.660,10.6)"><path d="M0.68,-0.86 C0.62,-0.97 0.50,-0.97 0.40,-0.93 C0.28,-0.88 0.22,-0.78 0.25,-0.69 C0.27,-0.61 0.34,-0.57 0.44,-0.55 C0.28,-0.53 0.10,-0.42 0.07,-0.25 C0.05,-0.10 0.14,-0.03 0.27,-0.04 C0.42,-0.05 0.58,-0.14 0.65,-0.28" fill="none" stroke="#111" stroke-width="0.115" stroke-linecap="round"/><circle cx="0.655" cy="-0.865" r="0.075" fill="#111"/></g><line x1="2.2" y1="135.3" x2="18" y2="135.3" stroke="#1a1a1a" stroke-width="0.85"/><text transform="translate(3.0,149) rotate(0.2) scale(0.84,1)" font-size="15.2">Λ</text><text transform="translate(12.1,146.1) rotate(0.2) scale(1,1)" font-size="9.8">4</text><text transform="translate(196.0,284) rotate(0.2) scale(1,1)" font-size="14.5">(</text><text transform="translate(200.9,284) rotate(0.2) scale(1,1)" font-size="14.5" class="it">z</text><line x1="210.2" y1="281.3" x2="218.6" y2="281.3" stroke="#1a1a1a" stroke-width="0.9"/><text transform="translate(224.6,284) rotate(0.2) scale(1,1)" font-size="14.5" class="it">z</text><text transform="translate(231.0,288.7) rotate(0.2) scale(1,1)" font-size="10">0</text><text transform="translate(231.1,278.8) rotate(0.2) scale(1,1)" font-size="10" class="it" letter-spacing="0.3" stroke="#1a1a1a" stroke-width="0.15">low</text><text transform="translate(248.2,284) rotate(0.2) scale(1,1)" font-size="14.5">)</text><text transform="translate(252.6,284) rotate(0.2) scale(0.93,1)" font-size="14.5">Λ</text><g transform="translate(205.2,193.6) scale(11.948,10.3)"><path d="M0.68,-0.86 C0.62,-0.97 0.50,-0.97 0.40,-0.93 C0.28,-0.88 0.22,-0.78 0.25,-0.69 C0.27,-0.61 0.34,-0.57 0.44,-0.55 C0.28,-0.53 0.10,-0.42 0.07,-0.25 C0.05,-0.10 0.14,-0.03 0.27,-0.04 C0.42,-0.05 0.58,-0.14 0.65,-0.28" fill="none" stroke="#111" stroke-width="0.115" stroke-linecap="round"/><circle cx="0.655" cy="-0.865" r="0.075" fill="#111"/></g><text transform="translate(213.8,195.6) rotate(0.2) scale(1,1)" font-size="10" class="it" letter-spacing="0.2" stroke="#1a1a1a" stroke-width="0.15">low</text><text transform="translate(229.7,193.6) rotate(0.2) scale(1,1)" font-size="14.5">(</text><text transform="translate(234.0,193.6) rotate(0.2) scale(1,1)" font-size="14.5" class="it">T</text><text transform="translate(242.4,196.0) rotate(0.2) scale(1,1)" font-size="10" class="it" stroke="#1a1a1a" stroke-width="0.15">c</text><text transform="translate(247.0,193.6) rotate(0.2) scale(1,1)" font-size="14.5">)</text><text transform="translate(202.0,47.1) rotate(0.2) scale(1,1)" font-size="12" class="it">t</text><text transform="translate(206.2,47.1) rotate(0.2) scale(0.9,1)" font-size="12">Λ</text><line x1="217.6" y1="42.1" x2="225.9" y2="42.1" stroke="#1a1a1a" stroke-width="0.85"/><line x1="217.6" y1="44.7" x2="225.9" y2="44.7" stroke="#1a1a1a" stroke-width="0.85"/><text transform="translate(229.0,47.1) rotate(0.2) scale(1,1)" font-size="11.8">280</text><g transform="translate(201.0,74.0) scale(9.240,8.4)"><path d="M0.68,-0.86 C0.62,-0.97 0.50,-0.97 0.40,-0.93 C0.28,-0.88 0.22,-0.78 0.25,-0.69 C0.27,-0.61 0.34,-0.57 0.44,-0.55 C0.28,-0.53 0.10,-0.42 0.07,-0.25 C0.05,-0.10 0.14,-0.03 0.27,-0.04 C0.42,-0.05 0.58,-0.14 0.65,-0.28" fill="none" stroke="#111" stroke-width="0.115" stroke-linecap="round"/><circle cx="0.655" cy="-0.865" r="0.075" fill="#111"/></g><text transform="translate(208.5,75.7) rotate(0.2) scale(1,1)" font-size="8.2" class="it" stroke="#1a1a1a" stroke-width="0.15">eq</text><path d="M225.7,56.2 Q213.90,70.30000000000001 225.7,84.4 Q216.40,70.30000000000001 225.7,56.2 Z" fill="#1a1a1a" stroke="#1a1a1a" stroke-width="0.3"/><text transform="translate(226.5,73.7) rotate(0.2) scale(1,1)" font-size="12" class="it">z</text><line x1="234.7" y1="67.5" x2="242.8" y2="67.5" stroke="#1a1a1a" stroke-width="0.95"/><line x1="234.7" y1="71.4" x2="242.8" y2="71.4" stroke="#1a1a1a" stroke-width="0.95"/><line x1="238.7" y1="67.5" x2="238.7" y2="75.1" stroke="#1a1a1a" stroke-width="0.95"/><text transform="translate(247.4,66.9) rotate(0.2) scale(0.9,1)" font-size="13.2">Δ</text><text transform="translate(255.0,66.9) rotate(0.2) scale(1,1)" font-size="13.2" class="it">ℓ</text><text transform="translate(260.5,68.6) rotate(0.2) scale(1,1)" font-size="9">1</text><text transform="translate(265.7,66.9) rotate(0.2) scale(1,1)" font-size="13">(</text><text transform="translate(269.6,66.9) rotate(0.2) scale(1,1)" font-size="13" class="it">t</text><text transform="translate(273.9,66.9) rotate(0.2) scale(1,1)" font-size="13">)</text><line x1="246.6" y1="70.6" x2="279.0" y2="70.6" stroke="#1a1a1a" stroke-width="0.85"/><text transform="translate(260.1,81.9) rotate(0.2) scale(1,1)" font-size="12.2">2</text><path d="M280.1,56.2 Q291.90,70.30000000000001 280.1,84.4 Q289.40,70.30000000000001 280.1,56.2 Z" fill="#1a1a1a" stroke="#1a1a1a" stroke-width="0.3"/><line x1="291.4" y1="70.7" x2="298.6" y2="70.7" stroke="#1a1a1a" stroke-width="0.9"/><line x1="295.0" y1="67.1" x2="295.0" y2="74.3" stroke="#1a1a1a" stroke-width="0.9"/><text transform="translate(302.4,74.0) rotate(0.2) scale(0.9,1)" font-size="12" class="it">δ</text><g transform="translate(307.6,74.0) scale(9.240,8.4)"><path d="M0.68,-0.86 C0.62,-0.97 0.50,-0.97 0.40,-0.93 C0.28,-0.88 0.22,-0.78 0.25,-0.69 C0.27,-0.61 0.34,-0.57 0.44,-0.55 C0.28,-0.53 0.10,-0.42 0.07,-0.25 C0.05,-0.10 0.14,-0.03 0.27,-0.04 C0.42,-0.05 0.58,-0.14 0.65,-0.28" fill="none" stroke="#111" stroke-width="0.115" stroke-linecap="round"/><circle cx="0.655" cy="-0.865" r="0.075" fill="#111"/></g><text transform="translate(315.3,76.2) rotate(0.2) scale(1,1)" font-size="8.4" class="it" letter-spacing="0.2" stroke="#1a1a1a" stroke-width="0.15">low</text><text transform="translate(327.5,74.0) rotate(0.2) scale(1,1)" font-size="12.4">(</text><text transform="translate(331.3,74.0) rotate(0.2) scale(1,1)" font-size="12.4" class="it">t</text><text transform="translate(335.4,74.0) rotate(0.2) scale(1,1)" font-size="12.4">,</text><text transform="translate(339.9,73.8) rotate(0.2) scale(1,1)" font-size="12.4" class="it">z</text><text transform="translate(345.7,74.0) rotate(0.2) scale(1,1)" font-size="12.4">)</text><g transform="translate(201.0,102.9) scale(9.240,8.4)"><path d="M0.68,-0.86 C0.62,-0.97 0.50,-0.97 0.40,-0.93 C0.28,-0.88 0.22,-0.78 0.25,-0.69 C0.27,-0.61 0.34,-0.57 0.44,-0.55 C0.28,-0.53 0.10,-0.42 0.07,-0.25 C0.05,-0.10 0.14,-0.03 0.27,-0.04 C0.42,-0.05 0.58,-0.14 0.65,-0.28" fill="none" stroke="#111" stroke-width="0.115" stroke-linecap="round"/><circle cx="0.655" cy="-0.865" r="0.075" fill="#111"/></g><text transform="translate(208.5,104.7) rotate(0.2) scale(1,1)" font-size="8.2" class="it" stroke="#1a1a1a" stroke-width="0.15">eq</text><text transform="translate(216.2,102.9) rotate(0.2) scale(1,1)" font-size="12.2">(</text><text transform="translate(220.0,102.9) rotate(0.2) scale(1,1)" font-size="12.2" class="it">z</text><text transform="translate(225.9,102.9) rotate(0.2) scale(1,1)" font-size="12.2">)</text>
<!-- legend -->
<line x1="178.6" y1="43.85" x2="192.5" y2="43.85" stroke="#1414ff" stroke-width="1.6"/>
<line x1="164.0" y1="70.1" x2="190.7" y2="70.1" stroke="#ff0a0a" stroke-width="1.5" stroke-dasharray="4.7,0.8"/>
<line x1="164.0" y1="99.1" x2="191.1" y2="99.1" stroke="#000" stroke-width="1.5" stroke-dasharray="6,0.5,0.9,0.5"/>
</svg></body></html>
